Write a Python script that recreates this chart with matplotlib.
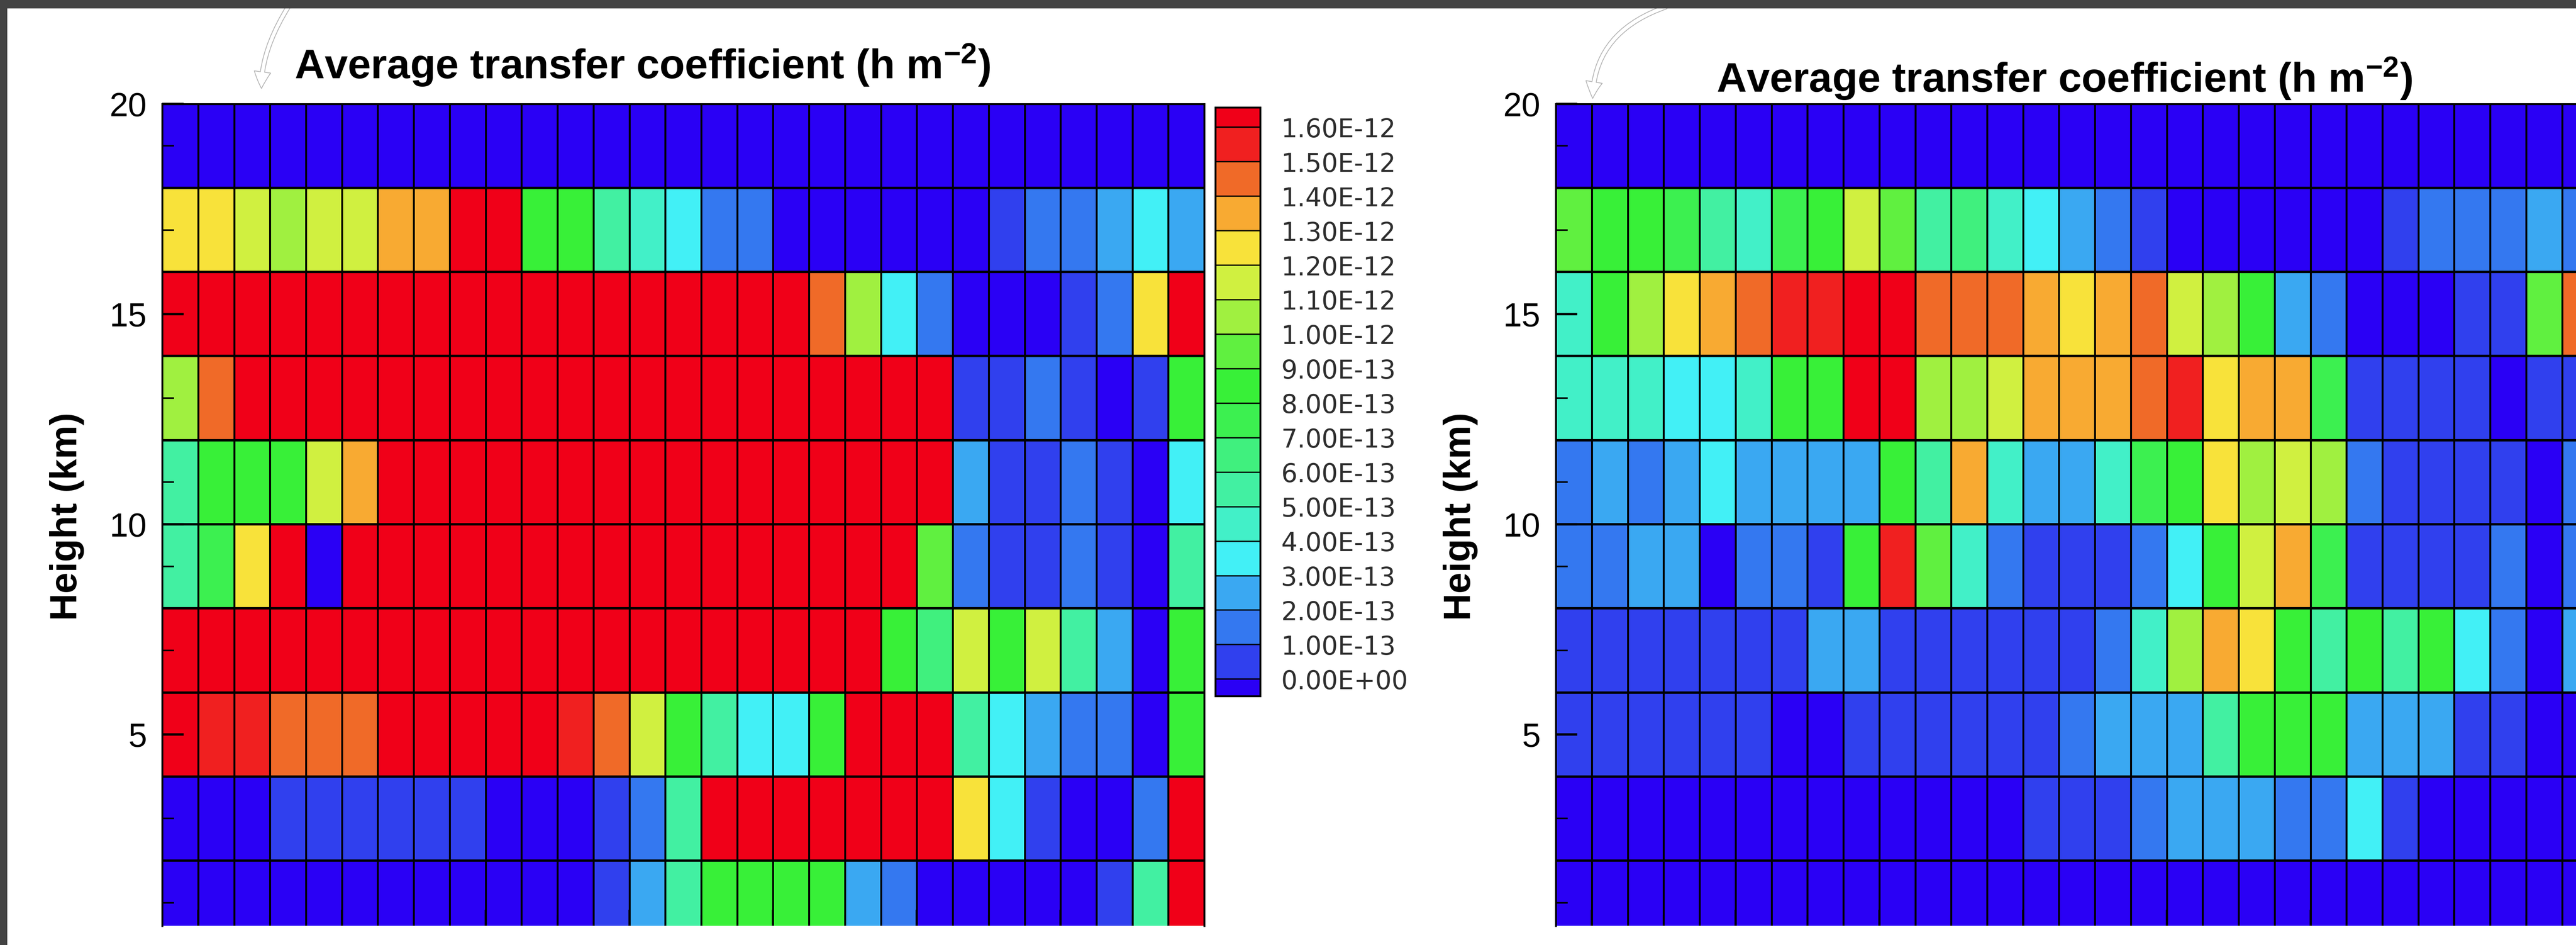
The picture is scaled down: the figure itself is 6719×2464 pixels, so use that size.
import numpy as np
import matplotlib
matplotlib.use("Agg")
import matplotlib.pyplot as plt
from matplotlib.colors import ListedColormap, BoundaryNorm
from matplotlib.patches import FancyArrowPatch, Rectangle, ArrowStyle
from matplotlib.path import Path

plt.rcParams['font.family'] = ['Liberation Sans', 'DejaVu Sans']
plt.rcParams['mathtext.default'] = 'regular'

W, H = 6719, 2464

# legend contour levels, 0 .. 1.6E-12 h m-2
levels = [i * 1e-13 for i in range(17)]
level_labels = ['%.2E' % v for v in levels]

# band colours: below lowest level, 16 bands, above highest level
band_colors = ['#2a00f5', '#3040ee', '#3478f0', '#3aa8f2', '#42f0f6', '#42f0c8',
               '#42f0a2', '#40f07e', '#3cf050', '#38f038', '#60f040', '#a0f040',
               '#d0f040', '#f8e23a', '#f8aa32', '#f06a28', '#f02020', '#f00018']

height_edges = [0, 2, 4, 6, 8, 10, 12, 14, 16, 18, 20]
col_edges = list(range(30))

# cell values in units of 1E-13 h m-2, rows listed from 18-20 km down to 0-2 km
left_vals = [
    [0, 0, 0, 0, 0, 0, 0, 0, 0, 0, 0, 0, 0, 0, 0, 0, 0, 0, 0, 0, 0, 0, 0, 0, 0, 0, 0, 0, 0],
    [12.5, 12.5, 11.5, 10.5, 11, 11.5, 13.5, 13.5, 17, 17, 8.5, 8.5, 5.5, 4.5, 3.5, 1.5, 1.5, 0, 0, 0, 0, 0, 0, 0.5, 1.5, 1.5, 2.5, 3.5, 2.5],
    [17, 17, 17, 17, 17, 17, 17, 17, 17, 17, 17, 17, 17, 17, 17, 17, 17, 17, 14.5, 10.5, 3.5, 1, 0, 0, 0, 0.5, 1.5, 12.5, 17],
    [10.5, 14.5, 17, 17, 17, 17, 17, 17, 17, 17, 17, 17, 17, 17, 17, 17, 17, 17, 17, 17, 17, 17, 0.5, 0.5, 1.5, 0.5, 0, 0.5, 8.5],
    [5.5, 8.5, 8.5, 8, 11.5, 13.5, 17, 17, 17, 17, 17, 17, 17, 17, 17, 17, 17, 17, 17, 17, 17, 17, 2.5, 0.5, 0.5, 1.5, 0.5, 0, 3.5],
    [5.5, 7.5, 12.5, 17, 0, 17, 17, 17, 17, 17, 17, 17, 17, 17, 17, 17, 17, 17, 17, 17, 17, 9.5, 1.5, 0.5, 0.5, 1.5, 0.5, 0, 5.5],
    [17, 17, 17, 17, 17, 17, 17, 17, 17, 17, 17, 17, 17, 17, 17, 17, 17, 17, 17, 17, 8.5, 6.5, 11.5, 8.5, 11.5, 5.5, 2.5, 0, 8.5],
    [17, 15.5, 15.5, 14.5, 14.5, 14.5, 17, 17, 17, 17, 17, 15.5, 14.5, 11.5, 8.5, 5, 3.5, 3.5, 8.5, 17, 17, 17, 5, 3.5, 2.5, 1.5, 1.5, 0, 8.5],
    [0, 0, 0, 0.5, 0.5, 0.5, 0.5, 0.5, 0.5, 0, 0, 0, 0.5, 1.5, 5.5, 17, 17, 17, 17, 17, 17, 17, 12.5, 3.5, 0.5, 0, 0, 1.5, 17],
    [0, 0, 0, 0, 0, 0, 0, 0, 0, 0, 0, 0, 0.5, 2.5, 5.5, 8.5, 8.5, 8.5, 8.5, 2.5, 1, 0, 0, 0, 0, 0, 0.5, 5.5, 17],
]

right_vals = [
    [0, 0, 0, 0, 0, 0, 0, 0, 0, 0, 0, 0, 0, 0, 0, 0, 0, 0, 0, 0, 0, 0, 0, 0, 0, 0, 0, 0, 0],
    [9, 8.5, 8.5, 7, 5.5, 4.5, 7.5, 8, 11.5, 9.5, 5.5, 6.5, 4.5, 3.5, 2.5, 1.5, 0.5, 0, 0, 0, 0, 0, 0, 0.5, 1, 1.5, 1.5, 2.5, 1.5],
    [4.5, 8.5, 10.5, 12.5, 13.5, 14.5, 15.5, 15.5, 17, 17, 14.5, 14.5, 14.5, 13.5, 12.5, 13.5, 14.5, 11.5, 10.5, 8.5, 2.5, 1, 0, 0, 0, 0.5, 0.5, 9.5, 14.5],
    [4.5, 4.5, 4.5, 3.5, 3.5, 4.5, 8.5, 8.5, 17, 17, 10.5, 10.5, 11.5, 13.5, 13.5, 13.5, 14.5, 15.5, 12.5, 13.5, 13.5, 7.5, 0.5, 0.5, 0.5, 0.5, 0, 0.5, 0.5],
    [1.5, 2.5, 1.5, 2.5, 3.5, 2.5, 2.5, 2.5, 2.5, 8.5, 5.5, 13.5, 4.5, 2.5, 2.5, 4.5, 7.5, 8.5, 12.5, 10.5, 11.5, 10.5, 1.5, 0.5, 0.5, 0.5, 0.5, 0, 1],
    [1.5, 1.5, 2.5, 2.5, 0, 1, 1.5, 0.5, 8.5, 15.5, 9, 4.5, 1.5, 0.5, 0.5, 0.5, 1.5, 3.5, 8.5, 11.5, 13.5, 7.5, 0.5, 0.5, 0.5, 0.5, 1, 0, 1.5],
    [0.5, 0.5, 0.5, 0.5, 0.5, 0.5, 0.5, 2, 2, 0.5, 0.5, 0.5, 0.5, 0.5, 0.5, 1.5, 4.5, 10.5, 13.5, 12.5, 8.5, 5.5, 8.5, 5.5, 8.5, 3.5, 1.5, 0, 2.5],
    [0.5, 0.5, 0.5, 0.5, 0.5, 0.5, 0, 0, 0.5, 0.5, 0.5, 0.5, 0.5, 0.5, 1.5, 2.5, 2.5, 2.5, 5.5, 8.5, 8.5, 8.5, 2.5, 2.5, 2.5, 0.5, 0.5, 0, 0],
    [0, 0, 0, 0, 0, 0, 0, 0, 0, 0, 0, 0, 0, 0.5, 0.5, 0.5, 1.5, 2.5, 2.5, 2, 1.5, 1.5, 3.5, 0.5, 0, 0, 0, 0, 0],
    [0, 0, 0, 0, 0, 0, 0, 0, 0, 0, 0, 0, 0, 0, 0, 0, 0, 0, 0, 0, 0, 0, 0, 0, 0, 0, 0, 0, 0],
]

title = 'Average transfer coefficient (h m$^{-2}$)'

# zero cells fall below the lowest level, like the original contour legend
bounds = np.array(levels)
bounds[0] = 1e-18
cmap = ListedColormap(band_colors[1:-1])
cmap.set_under(band_colors[0])
cmap.set_over(band_colors[-1])
norm = BoundaryNorm(bounds, cmap.N)


def fpos(x, y):
    # pixel position in the picture -> figure fraction
    return (x / W, 1 - y / H)


def draw_panel(ax, vals):
    z = np.flipud(np.array(vals, dtype=float)) * 1e-13
    mesh = ax.pcolormesh(col_edges, height_edges, z, cmap=cmap, norm=norm,
                         edgecolors='black', linewidth=2.2)
    ax.hlines(height_edges, col_edges[0], col_edges[-1], colors='black', linewidth=4.5)
    ax.set_xlim(col_edges[0], col_edges[-1])
    ax.set_ylim(0.45, 20)
    ax.set_yticks([5, 10, 15, 20])
    ax.set_yticks(np.arange(1, 20, 2), minor=True)
    ax.set_xticks(np.arange(1, 29, 4))
    ax.set_xticks(np.arange(3, 29, 4), minor=True)
    ax.tick_params(axis='y', which='major', direction='in', length=40, width=4.5,
                   labelsize=63, pad=29)
    ax.tick_params(axis='y', which='minor', direction='in', length=22, width=3)
    ax.tick_params(axis='x', which='major', direction='in', length=30, width=4,
                   labelbottom=False)
    ax.tick_params(axis='x', which='minor', direction='in', length=20, width=3)
    ax.tick_params(right=False, top=False)
    for side in ['left', 'top', 'right']:
        ax.spines[side].set_linewidth(3.5)
    ax.spines['bottom'].set_visible(False)
    ax.set_ylabel('Height (km)', fontsize=71, fontweight='bold', va='center')
    ax.yaxis.set_label_coords(-0.0916, 0.498)
    return mesh


fig = plt.figure(figsize=(6719.4 / 100, 2464.4 / 100), dpi=100, facecolor='white')

ax1 = fig.add_axes([0.06296, 0.02029, 0.40452, 0.86973])
mesh = draw_panel(ax1, left_vals)

ax2 = fig.add_axes([0.60396, 0.02029, 0.40452, 0.86973])
draw_panel(ax2, right_vals)

cax = fig.add_axes([0.4718, 0.26339, 0.01741, 0.62297])
cb = fig.colorbar(mesh, cax=cax, extend='both', extendfrac=(0.031, 0.036),
                  extendrect=True, drawedges=True, spacing='uniform')
cb.set_ticks(bounds, labels=level_labels)
cb.ax.tick_params(length=0, pad=39, labelsize=48, labelcolor='#2e2e2e')
for lbl in cb.ax.get_yticklabels():
    lbl.set_fontfamily('DejaVu Sans')
cb.outline.set_linewidth(3.5)
cb.dividers.set_linewidth(2.5)

fig.text(*fpos(1676, 205), title, ha='center', va='baseline', fontsize=78, fontweight='bold')
fig.text(*fpos(5384, 240), title, ha='center', va='baseline', fontsize=78, fontweight='bold')

# curved pointer arrows drawn over the screenshot
arrow_style = ArrowStyle.Simple(head_length=31, head_width=31, tail_width=8)
for p0, c, p2 in [((752, 18), (680, 134), (682, 231)),
                  ((4346, 18), (4156, 84), (4154, 257))]:
    path = Path([fpos(*p0), fpos(*c), fpos(*p2)], [Path.MOVETO, Path.CURVE3, Path.CURVE3])
    arr = FancyArrowPatch(path=path, arrowstyle=arrow_style, transform=fig.transFigure,
                          facecolor='white', edgecolor='#b5b5b5', linewidth=1.5, zorder=8)
    fig.add_artist(arr)

# dark window frame on the top and left
fig.add_artist(Rectangle((0, 1 - 22 / H), 1, 22 / H, transform=fig.transFigure,
                         facecolor='#434343', edgecolor='none', zorder=10))
fig.add_artist(Rectangle((0, 0), 19 / W, 1, transform=fig.transFigure,
                         facecolor='#434343', edgecolor='none', zorder=10))

fig.savefig('out.png', dpi=100, facecolor='white')
